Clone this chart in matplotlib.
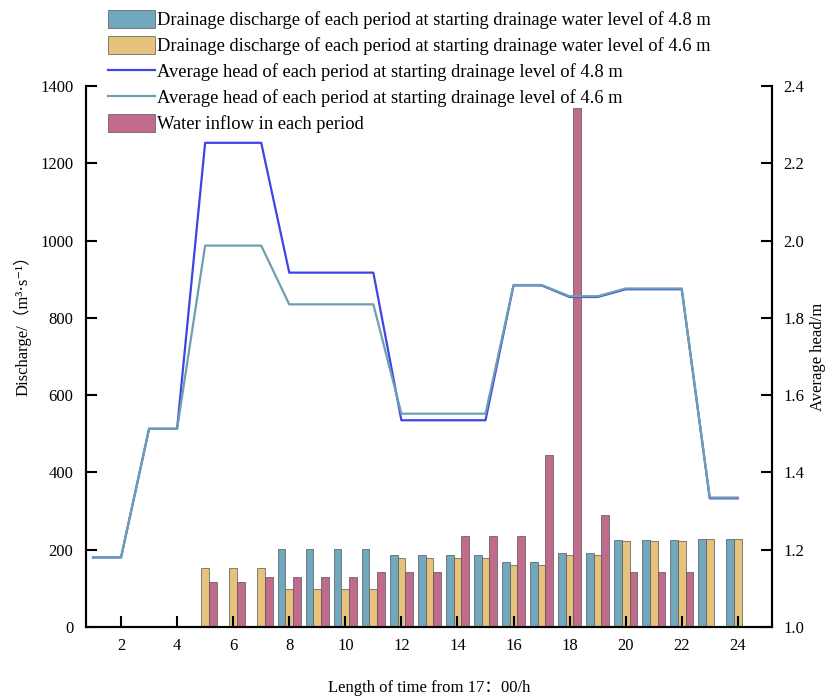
import numpy as np
import matplotlib
matplotlib.use('Agg')
import matplotlib.pyplot as plt
from matplotlib.patches import Patch
from matplotlib.lines import Line2D

plt.rcParams['font.family'] = ['Liberation Serif', 'DejaVu Serif', 'Noto Sans CJK SC']

hours = [1, 2, 3, 4, 5, 6, 7, 8, 9, 10, 11, 12, 13, 14, 15, 16, 17, 18, 19, 20, 21, 22, 23, 24]
nan = np.nan
# drainage discharge (m3/s)
discharge_48 = [nan, nan, nan, nan, nan, nan, nan, 201, 201, 201, 201, 186,
                186, 186, 186, 167, 167, 191, 191, 224, 224, 224, 227, 227]
discharge_46 = [nan, nan, nan, nan, 153, 153, 153, 98, 98, 98, 98, 179,
                179, 179, 179, 161, 161, 186, 186, 223, 223, 223, 227, 227]
inflow = [nan, nan, nan, nan, 117, 117, 129, 129, 129, 129, 143, 143,
          143, 235, 235, 235, 446, 1342, 289, 143, 143, 143, nan, nan]
# average head (m)
head_48 = [1.18, 1.18, 1.513, 1.513, 2.253, 2.253, 2.253, 1.917, 1.917, 1.917, 1.917, 1.535,
           1.535, 1.535, 1.535, 1.884, 1.884, 1.854, 1.854, 1.874, 1.874, 1.874, 1.333, 1.333]
head_46 = [1.18, 1.18, 1.513, 1.513, 1.987, 1.987, 1.987, 1.835, 1.835, 1.835, 1.835, 1.552,
           1.552, 1.552, 1.552, 1.885, 1.885, 1.856, 1.856, 1.876, 1.876, 1.876, 1.335, 1.335]

labels = ['Drainage discharge of each period at starting drainage water level of 4.8 m',
          'Drainage discharge of each period at starting drainage water level of 4.6 m',
          'Average head of each period at starting drainage level of 4.8 m',
          'Average head of each period at starting drainage level of 4.6 m',
          'Water inflow in each period']

c_blue_bar = '#72a8bd'
c_yellow_bar = '#e6c27c'
c_pink_bar = '#c06b8b'
c_line48 = '#3d44e8'
c_line46 = '#6e9fb0'

fig = plt.figure(figsize=(8.29, 6.97), dpi=100)
ax = fig.add_axes([86 / 829, 1 - 627 / 697, (772 - 86) / 829, (627 - 86) / 697])

x = np.array(hours, dtype=float)
w = 0.275
ax.bar(x - w, discharge_48, w, color=c_blue_bar, edgecolor='#555555', linewidth=0.5)
ax.bar(x, discharge_46, w, color=c_yellow_bar, edgecolor='#555555', linewidth=0.5)
ax.bar(x + w, inflow, w, color=c_pink_bar, edgecolor='#555555', linewidth=0.5)

ax.set_xlim(0.75, 25.22)
ax.set_ylim(0, 1400)
ax.set_xticks(range(2, 25, 2))
ax.set_yticks(range(0, 1401, 200))
ax.spines['top'].set_visible(False)
for s in ax.spines.values():
    s.set_linewidth(1.5)
ax.tick_params(direction='in', length=8, width=1.5, labelsize=12, pad=9)
ax.tick_params(axis='x', pad=8)
ax.set_ylabel('Discharge/（m³·s⁻¹）', fontsize=12)
ax.yaxis.set_label_coords(-0.080, 0.565)
ax.set_xlabel('Length of time from 17：00/h', fontsize=12, labelpad=19)

ax2 = ax.twinx()
ax2.plot(x, head_48, color=c_line48, lw=1.6)
ax2.plot(x, head_46, color=c_line46, lw=1.6)
ax2.set_ylim(1.0, 2.4)
ax2.set_yticks([1.0, 1.2, 1.4, 1.6, 1.8, 2.0, 2.2, 2.4])
ax2.set_yticklabels(['1.0', '1.2', '1.4', '1.6', '1.8', '2.0', '2.2', '2.4'])
ax2.spines['top'].set_visible(False)
for s in ax2.spines.values():
    s.set_linewidth(1.5)
ax2.tick_params(direction='in', length=8, width=1.5, labelsize=12, pad=8)
ax2.set_ylabel('Average head/m', fontsize=12, labelpad=4)

handles = [Patch(facecolor=c_blue_bar, edgecolor='#555555', linewidth=0.5),
           Patch(facecolor=c_yellow_bar, edgecolor='#555555', linewidth=0.5),
           Line2D([], [], color=c_line48, lw=1.6),
           Line2D([], [], color=c_line46, lw=1.6),
           Patch(facecolor=c_pink_bar, edgecolor='#555555', linewidth=0.5)]
fig.legend(handles, labels, loc='upper left', bbox_to_anchor=(108 / 829, 1 - 10 / 697),
           frameon=False, fontsize=13.3, handlelength=2.55, handleheight=1.1,
           handletextpad=0.12, labelspacing=0.37, borderpad=0, borderaxespad=0)

fig.savefig('out.png', dpi=100)
